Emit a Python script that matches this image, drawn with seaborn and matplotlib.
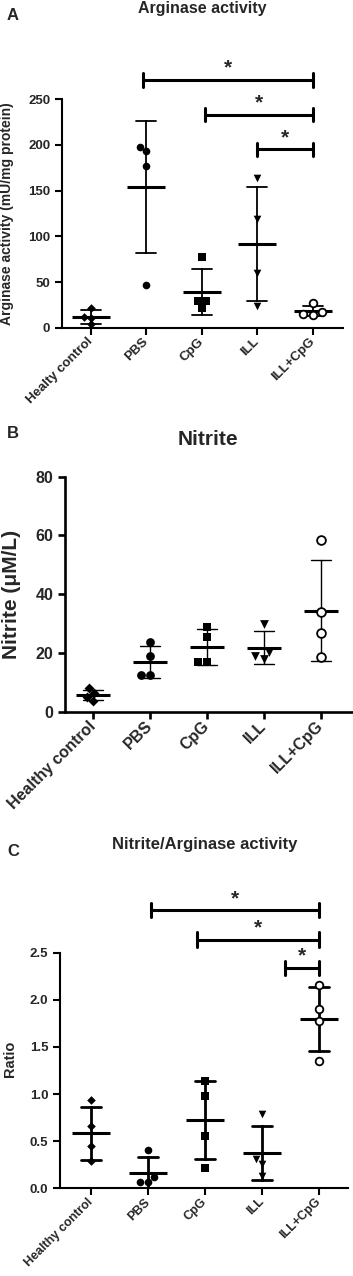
import numpy as np
import pandas as pd
import seaborn as sns
import matplotlib.pyplot as plt

# groups and x tick labels
groups = ['Healthy control', 'PBS', 'CpG', 'ILL', 'ILL+CpG']
labels_a = ['Healty control', 'PBS', 'CpG', 'ILL', 'ILL+CpG']
labels_bc = ['Healthy control', 'PBS', 'CpG', 'ILL', 'ILL+CpG']

# A: arginase activity (mU/mg protein)
arg_healthy = [22, 11.7, 11, 4]
arg_pbs = [193, 198, 177, 47]
arg_cpg = [77, 29, 22, 29]
arg_ill = [164, 119, 60, 24]
arg_illcpg = [27, 18, 14, 15]

# B: nitrite (uM/L)
nit_healthy = [6.2, 3.6, 5.1, 7.9]
nit_pbs = [23.8, 18.9, 12.5, 12.5]
nit_cpg = [29, 25.5, 17, 17]
nit_ill = [30, 20.4, 17.9, 18.9]
nit_illcpg = [58.4, 34, 26.7, 18.7]

# C: nitrite / arginase ratio
ratio_healthy = [0.94, 0.66, 0.45, 0.29]
ratio_pbs = [0.41, 0.12, 0.07, 0.07]
ratio_cpg = [1.14, 0.98, 0.56, 0.22]
ratio_ill = [0.785, 0.31, 0.26, 0.13]
ratio_illcpg = [2.16, 1.90, 1.78, 1.35]

# significance brackets: start group, end group, height
sig_a = [(0.94, 4, 271), (2.05, 4, 233), (3.0, 4, 195)]
sig_c = [(1.05, 4, 2.95), (1.86, 4, 2.64), (3.4, 4, 2.34)]

markers = ['D', 'o', 's', 'v', 'o']

sns.set_style('white')
plt.rcParams['font.family'] = ['Liberation Sans', 'DejaVu Sans']
plt.rcParams['font.weight'] = 'bold'
plt.rcParams['axes.labelweight'] = 'bold'


def make_df(vals):
    rows = []
    for g, v in zip(groups, vals):
        for x in v:
            rows.append({'group': g, 'value': x})
    return pd.DataFrame(rows)


def draw(ax, df, msize, meanw, spw, errw, capsize):
    for g, m in zip(groups, markers):
        sub = df[df['group'] == g]
        if g == 'ILL+CpG':
            sns.swarmplot(data=sub, x='group', y='value', order=groups, marker=m,
                          size=msize, color='white', edgecolor='black', linewidth=1.3,
                          ax=ax, zorder=3)
        else:
            sz = msize * 0.8 if m == 'D' else msize
            sns.swarmplot(data=sub, x='group', y='value', order=groups, marker=m,
                          size=sz, color='black', ax=ax, zorder=3)
    sns.pointplot(data=df, x='group', y='value', order=groups, errorbar='sd',
                  color='black', marker='_', markersize=meanw, markeredgewidth=2.2,
                  linestyle='none', capsize=capsize, err_kws={'linewidth': errw}, ax=ax)
    sns.despine(ax=ax)
    for s in ['left', 'bottom']:
        ax.spines[s].set_linewidth(spw)
        ax.spines[s].set_color('black')
    ax.tick_params(axis='both', which='both', length=5, width=spw, color='black',
                   left=True, bottom=True)
    ax.set_xlabel('')


def brackets(ax, sig, tick, fs):
    for x1, x2, y in sig:
        ax.plot([x1, x2], [y, y], color='black', lw=2.2, clip_on=False)
        ax.plot([x1, x1], [y - tick, y + tick], color='black', lw=2.2, clip_on=False)
        ax.plot([x2, x2], [y - tick, y + tick], color='black', lw=2.2, clip_on=False)
        ax.text((x1 + x2) / 2, y + tick * 0.3, '*', ha='center', va='bottom',
                fontsize=fs, fontweight='bold')


W, H = 353, 1276
fig = plt.figure(figsize=(W / 100, H / 100), dpi=100)

# ---- A ----
axA = fig.add_axes([62 / W, 1 - 328 / H, 281 / W, 229 / H])
dfA = make_df([arg_healthy, arg_pbs, arg_cpg, arg_ill, arg_illcpg])
draw(axA, dfA, 5.5, 27, 1.5, 1.3, 0.36)
axA.set_ylim(0, 250)
axA.set_xlim(-0.52, 4.54)
axA.set_yticks([0, 50, 100, 150, 200, 250])
axA.tick_params(axis='y', labelsize=9.5)
axA.set_xticks(range(5))
axA.set_xticklabels(labels_a, rotation=45, ha='right', va='center',
                    rotation_mode='anchor', fontsize=9.5, fontweight='bold')
axA.set_ylabel('Arginase activity (mU/mg protein)', fontsize=10, fontweight='bold')
axA.yaxis.set_label_coords(-0.17, 0.5)
brackets(axA, sig_a, 7.5, 15)

# ---- B ----
axB = fig.add_axes([65 / W, 1 - 711.7 / H, 287 / W, 235 / H])
dfB = make_df([nit_healthy, nit_pbs, nit_cpg, nit_ill, nit_illcpg])
draw(axB, dfB, 6.3, 24, 1.9, 1.0, 0.34)
axB.set_ylim(0, 80)
axB.set_xlim(-0.49, 4.54)
axB.set_yticks([0, 20, 40, 60, 80])
axB.tick_params(axis='y', labelsize=11.5)
axB.set_xticks(range(5))
axB.set_xticklabels(labels_bc, rotation=45, ha='right', va='center',
                    rotation_mode='anchor', fontsize=11.5, fontweight='bold')
axB.set_ylabel('Nitrite (\u03bcM/L)', fontsize=15, fontweight='bold')
axB.yaxis.set_label_coords(-0.155, 0.5)

# ---- C ----
axC = fig.add_axes([60 / W, 1 - 1188.3 / H, 288 / W, 235.6 / H])
dfC = make_df([ratio_healthy, ratio_pbs, ratio_cpg, ratio_ill, ratio_illcpg])
draw(axC, dfC, 5.5, 27, 1.5, 2.0, 0.36)
axC.set_ylim(0, 2.5)
axC.set_xlim(-0.54, 4.51)
axC.set_yticks([0, 0.5, 1.0, 1.5, 2.0, 2.5])
axC.set_yticklabels(['0.0', '0.5', '1.0', '1.5', '2.0', '2.5'])
axC.tick_params(axis='y', labelsize=9.5)
axC.set_xticks(range(5))
axC.set_xticklabels(labels_bc, rotation=45, ha='right', va='center',
                    rotation_mode='anchor', fontsize=9, fontweight='bold')
axC.set_ylabel('Ratio', fontsize=10.5, fontweight='bold')
axC.yaxis.set_label_coords(-0.15, 0.55)
brackets(axC, sig_c, 0.075, 15)

for ax in [axA, axB, axC]:
    for t in ax.get_yticklabels():
        t.set_fontweight('bold')

# titles and panel letters
fig.text(202 / W, 1 - 8 / H, 'Arginase activity', ha='center', va='center',
         fontsize=11.5, fontweight='bold')
fig.text(208 / W, 1 - 439 / H, 'Nitrite', ha='center', va='center',
         fontsize=15, fontweight='bold')
fig.text(205 / W, 1 - 845 / H, 'Nitrite/Arginase activity', ha='center', va='center',
         fontsize=12, fontweight='bold')
for lab, y in [('A', 15), ('B', 434), ('C', 852)]:
    fig.text(13 / W, 1 - y / H, lab, ha='center', va='center', fontsize=12,
             fontweight='bold')

fig.savefig('out.png', dpi=100)
